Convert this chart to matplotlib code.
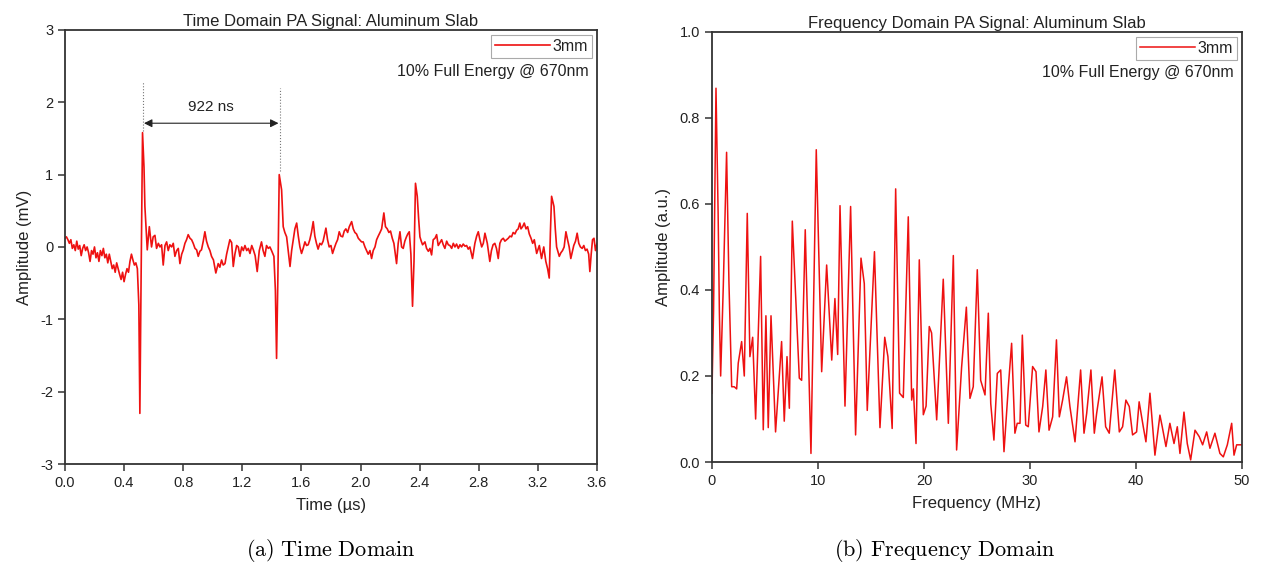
import matplotlib
matplotlib.use("Agg")
import matplotlib.pyplot as plt

plt.rcParams['font.family'] = ['Liberation Sans', 'DejaVu Sans']
plt.rcParams['mathtext.fontset'] = 'cm'
plt.rcParams['axes.unicode_minus'] = False

# ---------------- Time domain data (µs, mV) ----------------
time_us = [0.000, 0.010, 0.020, 0.030, 0.040, 0.050, 0.060, 0.070, 0.080, 0.090,
           0.100, 0.110, 0.120, 0.130, 0.140, 0.150, 0.160, 0.170, 0.180, 0.190,
           0.200, 0.210, 0.220, 0.230, 0.240, 0.250, 0.260, 0.270, 0.280, 0.290,
           0.300, 0.310, 0.320, 0.330, 0.340, 0.350, 0.360, 0.370, 0.380, 0.390,
           0.400, 0.410, 0.420, 0.430, 0.440, 0.450, 0.460, 0.470, 0.480, 0.490,
           0.500, 0.507, 0.515, 0.525, 0.535, 0.541, 0.557, 0.571, 0.586, 0.597,
           0.609, 0.620, 0.632, 0.643, 0.654, 0.665, 0.677, 0.688, 0.699, 0.710,
           0.722, 0.733, 0.744, 0.756, 0.767, 0.778, 0.790, 0.801, 0.812, 0.823,
           0.834, 0.846, 0.857, 0.868, 0.880, 0.891, 0.902, 0.913, 0.924, 0.936,
           0.947, 0.958, 0.970, 0.981, 0.992, 1.005, 1.021, 1.037, 1.048, 1.060,
           1.071, 1.083, 1.094, 1.105, 1.116, 1.128, 1.139, 1.150, 1.162, 1.173,
           1.184, 1.196, 1.207, 1.218, 1.230, 1.241, 1.252, 1.264, 1.275, 1.287,
           1.301, 1.315, 1.330, 1.341, 1.353, 1.364, 1.376, 1.387, 1.398, 1.414,
           1.424, 1.432, 1.441, 1.450, 1.466, 1.477, 1.488, 1.500, 1.511, 1.523,
           1.534, 1.545, 1.556, 1.568, 1.579, 1.590, 1.601, 1.612, 1.624, 1.635,
           1.646, 1.657, 1.668, 1.680, 1.691, 1.702, 1.713, 1.725, 1.736, 1.747,
           1.766, 1.777, 1.788, 1.800, 1.811, 1.822, 1.834, 1.845, 1.856, 1.867,
           1.879, 1.890, 1.901, 1.913, 1.924, 1.940, 1.951, 1.962, 1.973, 1.985,
           2.007, 2.018, 2.030, 2.041, 2.052, 2.064, 2.075, 2.086, 2.098, 2.109,
           2.120, 2.132, 2.143, 2.158, 2.169, 2.181, 2.192, 2.203, 2.215, 2.226,
           2.244, 2.255, 2.267, 2.278, 2.289, 2.300, 2.311, 2.320, 2.330, 2.341,
           2.352, 2.362, 2.372, 2.384, 2.393, 2.402, 2.411, 2.420, 2.436, 2.447,
           2.459, 2.470, 2.481, 2.492, 2.504, 2.515, 2.526, 2.538, 2.549, 2.560,
           2.571, 2.583, 2.594, 2.605, 2.617, 2.628, 2.639, 2.650, 2.662, 2.673,
           2.684, 2.695, 2.707, 2.718, 2.729, 2.740, 2.758, 2.774, 2.786, 2.797,
           2.808, 2.820, 2.831, 2.842, 2.858, 2.875, 2.886, 2.897, 2.909, 2.920,
           2.932, 2.943, 2.954, 2.966, 2.977, 2.988, 3.000, 3.011, 3.022, 3.033,
           3.045, 3.056, 3.067, 3.078, 3.086, 3.097, 3.108, 3.120, 3.131, 3.142,
           3.154, 3.165, 3.176, 3.192, 3.210, 3.225, 3.240, 3.254, 3.266, 3.277,
           3.285, 3.293, 3.309, 3.318, 3.327, 3.345, 3.356, 3.367, 3.378, 3.390,
           3.401, 3.412, 3.423, 3.432, 3.443, 3.455, 3.466, 3.477, 3.488, 3.500,
           3.511, 3.522, 3.533, 3.544, 3.552, 3.561, 3.570, 3.580, 3.590, 3.600]
amp_mv = [0.12, 0.14, 0.10, 0.05, 0.10, -0.02, 0.03, -0.05, 0.08, -0.03,
          0.02, -0.12, -0.02, 0.03, -0.05, 0.00, -0.08, -0.20, -0.05, -0.10,
          0.00, -0.15, -0.08, -0.20, -0.05, -0.12, -0.02, -0.15, -0.10, -0.22,
          -0.10, -0.20, -0.30, -0.25, -0.35, -0.22, -0.30, -0.38, -0.45, -0.35,
          -0.48, -0.38, -0.30, -0.35, -0.20, -0.10, -0.18, -0.25, -0.22, -0.30,
          -0.80, -2.30, -0.50, 1.58, 1.10, 0.56, -0.04, 0.28, 0.00, 0.14,
          0.16, -0.02, 0.05, 0.00, 0.03, -0.25, 0.02, 0.07, -0.05, 0.03,
          0.00, 0.05, -0.13, -0.05, -0.02, -0.23, -0.10, -0.04, 0.05, 0.10,
          0.17, 0.12, 0.10, 0.05, -0.02, -0.04, -0.13, -0.06, -0.04, 0.08,
          0.21, 0.08, 0.00, -0.05, -0.13, -0.18, -0.36, -0.23, -0.28, -0.18,
          -0.25, -0.23, -0.10, 0.00, 0.10, 0.06, -0.27, -0.10, 0.02, 0.00,
          -0.13, 0.00, -0.05, 0.02, -0.05, -0.02, -0.09, 0.02, -0.04, -0.12,
          -0.34, -0.05, 0.07, -0.05, -0.13, 0.02, -0.02, 0.00, -0.05, -0.13,
          -0.60, -1.54, -0.40, 1.00, 0.79, 0.28, 0.20, 0.14, -0.05, -0.27,
          -0.05, 0.10, 0.25, 0.33, 0.15, 0.00, -0.09, -0.02, 0.07, 0.02,
          0.03, 0.10, 0.20, 0.35, 0.15, 0.05, -0.03, 0.05, 0.03, 0.08,
          0.26, 0.10, 0.00, 0.02, -0.09, -0.02, 0.05, 0.10, 0.21, 0.15,
          0.14, 0.22, 0.25, 0.20, 0.28, 0.35, 0.25, 0.20, 0.18, 0.12,
          0.07, 0.07, 0.00, -0.05, -0.10, -0.05, -0.16, -0.05, 0.00, 0.10,
          0.15, 0.20, 0.25, 0.47, 0.28, 0.25, 0.20, 0.22, 0.12, 0.05,
          -0.23, 0.05, 0.21, 0.00, -0.02, 0.08, 0.14, 0.18, 0.21, -0.10,
          -0.82, -0.20, 0.88, 0.70, 0.40, 0.14, 0.08, 0.03, 0.07, -0.02,
          -0.06, -0.02, -0.11, 0.10, 0.12, 0.17, 0.02, 0.06, 0.10, 0.03,
          -0.02, 0.08, 0.03, 0.02, -0.02, 0.05, 0.00, 0.04, -0.02, 0.03,
          0.00, 0.04, 0.01, 0.02, -0.03, 0.00, -0.16, 0.05, 0.15, 0.21,
          0.10, 0.00, 0.05, 0.19, 0.05, -0.20, -0.05, 0.03, 0.05, -0.02,
          -0.16, 0.05, 0.10, 0.12, 0.08, 0.10, 0.12, 0.15, 0.14, 0.20,
          0.18, 0.23, 0.25, 0.33, 0.25, 0.28, 0.33, 0.25, 0.28, 0.18,
          0.12, 0.05, 0.10, -0.09, 0.02, -0.16, 0.00, -0.20, -0.30, -0.43,
          0.20, 0.70, 0.56, 0.25, 0.00, -0.13, -0.08, -0.05, 0.00, 0.21,
          0.10, 0.00, -0.16, -0.08, 0.02, 0.08, 0.19, 0.05, 0.00, -0.02,
          0.02, -0.05, -0.03, -0.10, -0.34, -0.10, 0.10, 0.12, -0.05, 0.05]

# ---------------- Frequency domain data (MHz, a.u.) ----------------
freq_mhz = [0.00, 0.15, 0.38, 0.58, 0.70, 0.82, 1.07, 1.38, 1.60, 1.86,
            2.10, 2.33, 2.48, 2.80, 3.05, 3.33, 3.58, 3.84, 4.12, 4.59,
            4.84, 5.09, 5.31, 5.57, 6.00, 6.57, 6.82, 7.08, 7.30, 7.58,
            7.83, 8.24, 8.46, 8.80, 9.34, 9.84, 10.35, 10.82, 11.30, 11.60,
            11.86, 12.08, 12.55, 13.08, 13.55, 14.06, 14.37, 14.65, 15.33, 15.85,
            16.30, 16.60, 17.00, 17.33, 17.70, 18.05, 18.52, 18.84, 19.00, 19.25,
            19.56, 19.94, 20.20, 20.50, 20.72, 21.20, 21.82, 22.30, 22.77, 23.08,
            23.55, 24.00, 24.34, 24.65, 25.03, 25.35, 25.76, 26.07, 26.30, 26.60,
            26.92, 27.24, 27.55, 27.96, 28.27, 28.58, 28.80, 29.06, 29.28, 29.60,
            29.84, 30.25, 30.57, 30.85, 31.20, 31.50, 31.80, 32.14, 32.50, 32.77,
            33.08, 33.45, 33.77, 34.25, 34.78, 35.10, 35.35, 35.75, 36.07, 36.29,
            36.80, 37.14, 37.48, 38.00, 38.43, 38.74, 39.05, 39.37, 39.68, 40.06,
            40.30, 40.69, 40.94, 41.32, 41.79, 42.26, 42.48, 42.83, 43.20, 43.59,
            43.90, 44.15, 44.53, 44.84, 45.16, 45.57, 45.97, 46.29, 46.67, 46.98,
            47.45, 47.92, 48.24, 48.62, 49.03, 49.25, 49.50, 50.00]
amp_au = [0.16, 0.35, 0.869, 0.58, 0.35, 0.20, 0.41, 0.72, 0.42, 0.175,
          0.175, 0.17, 0.23, 0.28, 0.20, 0.578, 0.245, 0.29, 0.10, 0.478,
          0.075, 0.34, 0.08, 0.34, 0.07, 0.28, 0.095, 0.245, 0.125, 0.56,
          0.42, 0.195, 0.19, 0.54, 0.02, 0.726, 0.21, 0.458, 0.237, 0.38,
          0.25, 0.596, 0.13, 0.594, 0.063, 0.474, 0.415, 0.12, 0.489, 0.08,
          0.29, 0.245, 0.078, 0.635, 0.16, 0.15, 0.57, 0.144, 0.17, 0.043,
          0.47, 0.11, 0.13, 0.315, 0.30, 0.098, 0.425, 0.09, 0.48, 0.028,
          0.22, 0.36, 0.148, 0.175, 0.447, 0.19, 0.156, 0.346, 0.136, 0.051,
          0.206, 0.214, 0.024, 0.175, 0.276, 0.067, 0.09, 0.09, 0.295, 0.086,
          0.082, 0.222, 0.21, 0.07, 0.129, 0.214, 0.074, 0.105, 0.284, 0.105,
          0.144, 0.198, 0.129, 0.047, 0.214, 0.067, 0.113, 0.214, 0.067, 0.113,
          0.198, 0.082, 0.067, 0.214, 0.07, 0.082, 0.144, 0.129, 0.063, 0.07,
          0.14, 0.082, 0.047, 0.16, 0.016, 0.109, 0.082, 0.036, 0.09, 0.043,
          0.082, 0.02, 0.116, 0.043, 0.005, 0.074, 0.059, 0.04, 0.07, 0.032,
          0.067, 0.02, 0.012, 0.04, 0.09, 0.016, 0.04, 0.04]

time_ticks = [0.0, 0.4, 0.8, 1.2, 1.6, 2.0, 2.4, 2.8, 3.2, 3.6]
time_yticks = [-3, -2, -1, 0, 1, 2, 3]
freq_ticks = [0, 10, 20, 30, 40, 50]
freq_yticks = [0.0, 0.2, 0.4, 0.6, 0.8, 1.0]

first_echo_us = 0.525
second_echo_us = 1.455

RED = '#ee1111'
SPINE = '#333333'

fig = plt.figure(figsize=(12.61, 5.66), dpi=100)
ax1 = fig.add_axes([0.0515, 0.1802, 0.4219, 0.767])
ax2 = fig.add_axes([0.5646, 0.1837, 0.4203, 0.760])


def style(ax):
    for s in ax.spines.values():
        s.set_color(SPINE)
        s.set_linewidth(1.3)
    ax.tick_params(axis='both', direction='out', length=5, width=1.1,
                   colors=SPINE, labelcolor='#222222', labelsize=10.5,
                   top=False, right=False)


# ---- Time domain ----
ax1.plot(time_us, amp_mv, color=RED, lw=1.2, label='3mm')
ax1.set_xlim(0, 3.6)
ax1.set_ylim(-3, 3)
ax1.set_xticks(time_ticks)
ax1.set_xticklabels([f'{t:.1f}' for t in time_ticks])
ax1.set_yticks(time_yticks)
ax1.set_title('Time Domain PA Signal: Aluminum Slab', fontsize=12, pad=3, color='#222222')
ax1.set_xlabel('Time (\u00b5s)', fontsize=12, color='#222222', labelpad=6)
ax1.set_ylabel('Amplitude (mV)', fontsize=12, color='#222222', labelpad=6)
style(ax1)
# dotted markers and arrow
ax1.plot([first_echo_us, first_echo_us], [1.6, 2.3], color='#777777', lw=0.8, ls=':')
ax1.plot([second_echo_us, second_echo_us], [1.05, 2.2], color='#777777', lw=0.8, ls=':')
ax1.annotate('', xy=(first_echo_us + 0.01, 1.71), xytext=(second_echo_us - 0.01, 1.71),
             arrowprops=dict(arrowstyle='<|-|>', color='#222222', lw=0.8,
                             mutation_scale=12, shrinkA=0, shrinkB=0))
ax1.text((first_echo_us + second_echo_us) / 2, 1.94, '922 ns', ha='center',
         va='center', fontsize=11, color='#222222')

# ---- Frequency domain ----
ax2.plot(freq_mhz, amp_au, color=RED, lw=1.1, label='3mm')
ax2.set_xlim(0, 50)
ax2.set_ylim(0, 1.0)
ax2.set_xticks(freq_ticks)
ax2.set_yticks(freq_yticks)
ax2.set_yticklabels([f'{v:.1f}' for v in freq_yticks])
ax2.set_title('Frequency Domain PA Signal: Aluminum Slab', fontsize=12, pad=3, color='#222222')
ax2.set_xlabel('Frequency (MHz)', fontsize=12, color='#222222', labelpad=6)
ax2.set_ylabel('Amplitude (a.u.)', fontsize=12, color='#222222', labelpad=6)
style(ax2)

for ax in (ax1, ax2):
    leg = ax.legend(loc='upper right', fontsize=11.5, handlelength=3.4,
                    handletextpad=0.2, borderpad=0.25, borderaxespad=0.3,
                    fancybox=False, framealpha=1)
    leg.get_frame().set_edgecolor('#aaaaaa')
    leg.get_frame().set_linewidth(0.8)
    for t in leg.get_texts():
        t.set_color('#222222')
    ax.text(0.985, 0.905, '10% Full Energy @ 670nm', transform=ax.transAxes,
            ha='right', va='center', fontsize=11.5, color='#222222')

fig.text(0.262, 0.028, r'$\mathrm{(a)\ Time\ Domain}$', ha='center', va='center', fontsize=16)
fig.text(0.749, 0.028, r'$\mathrm{(b)\ Frequency\ Domain}$', ha='center', va='center', fontsize=16)

fig.savefig('out.png', dpi=100)
